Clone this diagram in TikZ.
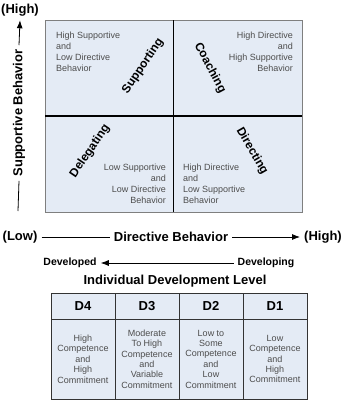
\documentclass[tikz,border=0pt]{standalone}
\usepackage{fontspec}
\setmainfont{Liberation Sans}
\usetikzlibrary{arrows.meta,positioning}
\definecolor{QuadFill}{HTML}{E4EBF5}
\definecolor{EdgeGrey}{HTML}{7F7F7F}
\definecolor{NoteGrey}{HTML}{4D4D4D}

\begin{document}
\begin{tikzpicture}[x=1pt,y=-1pt,>={Latex[length=8pt,width=6pt]},
 quad/.style={fill=QuadFill,minimum width=128.5pt,minimum height=96pt,
              inner sep=0pt,outer sep=0pt},
 note/.style={font=\fontsize{9}{11}\selectfont,text=NoteGrey,inner sep=0pt},
 lbl/.style={font=\fontsize{12}{14}\selectfont\bfseries,inner sep=0pt},
 axis/.style={font=\fontsize{13}{15}\selectfont\bfseries,inner sep=4pt},
 hdr/.style={draw=black!80,fill=QuadFill,line width=1pt,minimum width=64pt,
             minimum height=26pt,inner sep=0pt,outer sep=0pt,
             font=\fontsize{13}{15}\selectfont\bfseries},
 cell/.style={hdr,minimum height=80pt,align=center,
              font=\fontsize{9}{10.4}\selectfont,text=NoteGrey}]
\useasboundingbox (0,0) rectangle (345,400);
% the four leadership styles
\node[quad,anchor=north west] (qS) at (45,20) {};
\node[quad,right=0pt of qS] (qC) {};
\node[quad,below=0pt of qS] (qG) {};
\node[quad,right=0pt of qG] (qD) {};
\draw[EdgeGrey] (qS.north west) rectangle (qD.south east);
\draw[line width=1.2pt] (qS.north east) -- (qG.south east);
\draw[line width=1.2pt] (qS.south west) -- (qC.south east);
\node[note,align=left,anchor=north west] (tS) at (56,32)
  {High Supportive\\and\\Low Directive\\Behavior};
\node[note,align=right,anchor=north east] (tC) at (293,32)
  {High Directive\\and\\High Supportive\\Behavior};
\node[note,align=right,anchor=north east] (tG) at (166,164)
  {Low Supportive\\and\\Low Directive\\Behavior};
\node[note,align=left,anchor=north west] (tD) at (183,164)
  {High Directive\\and\\Low Supportive\\Behavior};
\node[lbl,rotate=56] (nS) at (143,66) {Supporting};
\node[lbl,rotate=-62] (nC) at (210,68) {Coaching};
\node[lbl,rotate=56] (nG) at (90,151) {Delegating};
\node[lbl,rotate=-60] (nD) at (252,151) {Directing};
% axes
\node[axis] (supHigh) at (20,10) {(High)};
\node[axis,rotate=90] (supB) at (19,113) {Supportive Behavior};
\coordinate (supLow) at (18,211);
\draw[->,thick] (supB.east) -- (supHigh.south);
\draw[thick] (supB.west) -- (supLow);
\node[axis] (dirLow) at (20,237) {(Low)};
\node[axis] (dirB) at (171,237) {Directive Behavior};
\node[axis] (dirHigh) at (323,237) {(High)};
\draw[thick] (dirLow.east) -- (dirLow.east -| dirB.west);
\draw[->,thick] (dirB.east) -- (dirB.east -| dirHigh.west);
\node[axis,font=\fontsize{10.5}{12}\selectfont\bfseries] (dvd) at (70,263) {Developed};
\node[axis,font=\fontsize{10.5}{12}\selectfont\bfseries] (dvg) at (266,263) {Developing};
\draw[->,thick] (dvg.west) -- (dvd.east);
\node[axis] (idl) at (175,281) {Individual Development Level};
% development levels
\node[hdr,anchor=north west] (d4) at (51,293) {D4};
\node[hdr,right=0pt of d4] (d3) {D3};
\node[hdr,right=0pt of d3] (d2) {D2};
\node[hdr,right=0pt of d2] (d1) {D1};
\node[cell,below=0pt of d4] (c4) {High\\Competence\\and\\High\\Commitment};
\node[cell,below=0pt of d3] (c3) {Moderate\\To High\\Competence\\and\\Variable\\Commitment};
\node[cell,below=0pt of d2] (c2) {Low to\\Some\\Competence\\and\\Low\\Commitment};
\node[cell,below=0pt of d1] (c1) {Low\\Competence\\and\\High\\Commitment};
\end{tikzpicture}
\end{document}
